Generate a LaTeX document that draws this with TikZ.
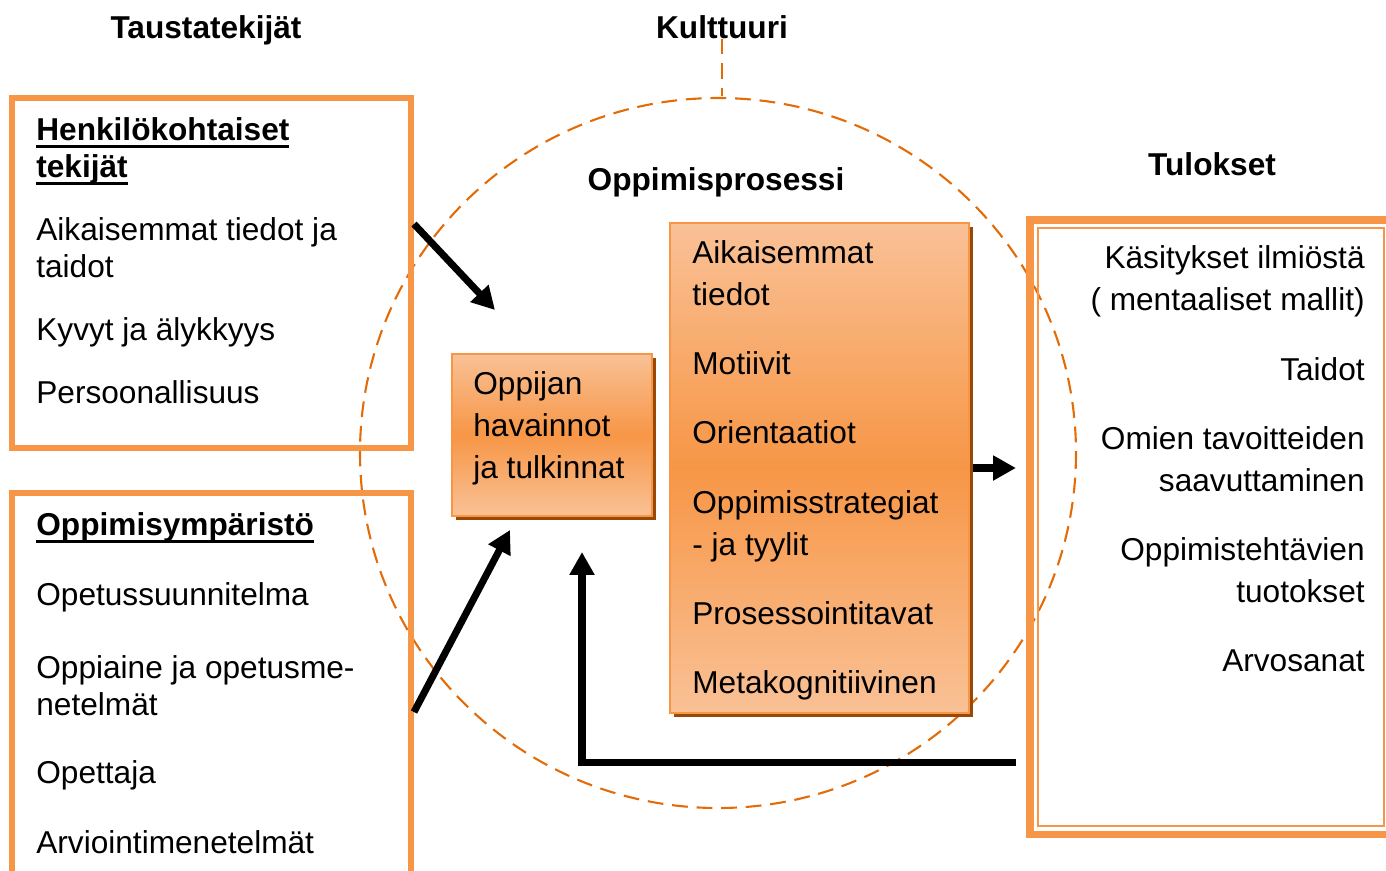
\documentclass[tikz,border=0pt]{standalone}
\usepackage{fontspec}
\setmainfont{Liberation Sans}
\usetikzlibrary{arrows.meta,shadows,fit}
\definecolor{orline}{HTML}{F79646}
\definecolor{orlight}{HTML}{F9C196}
\definecolor{ordark}{HTML}{F79646}
\definecolor{orshadow}{HTML}{984807}
\definecolor{ordash}{HTML}{E36C09}
\newlength\ulwd
\newcommand\ulhead[1]{\settowidth\ulwd{#1}\rlap{\rule[-4.6pt]{\ulwd}{1.7pt}}#1}
\begin{document}
\begin{tikzpicture}[x=0.02cm,y=-0.02cm,
  every node/.style={inner sep=0pt,font=\fontsize{18pt}{21pt}\selectfont},
  item/.style={anchor=base west,align=left},
  boxitem/.style={anchor=base west,align=left,font=\fontsize{18pt}{23.8pt}\selectfont},
  outitem/.style={anchor=base east,align=right,font=\fontsize{18pt}{23.8pt}\selectfont},
  head/.style={anchor=base,font=\fontsize{18pt}{21pt}\selectfont\bfseries},
  subhead/.style={anchor=base west,align=left,font=\fontsize{18pt}{21pt}\selectfont\bfseries},
  frame/.style={draw=orline,line width=3.4pt},
  procbox/.style={draw=orline,line width=1pt,top color=orlight,bottom color=orlight,middle color=ordark,
    drop shadow={shadow xshift=2pt,shadow yshift=-2.5pt,fill=orshadow,opacity=1}},
  culture/.style={draw=ordash,line width=1.2pt,dash pattern=on 9pt off 5pt},
  bigarrow/.style={line width=4pt,-{Triangle[length=13pt,width=13.5pt]}}]
  \useasboundingbox (0,0) rectangle (1386,870);
  \draw[culture] (718,453) ellipse [x radius=358,y radius=355];
  \node[head] (taus) at (206,38) {Taustatekijät};
  \node[head] (kult) at (722,38) {Kulttuuri};
  \node[head] (opp) at (716,190) {Oppimisprosessi};
  \node[head] (tul) at (1212,175) {Tulokset};
  \draw[culture] (kult.south) -- (kult.south |- 0,96);
  \node[frame,fit={(12,98) (411,448)}] (pers) {};
  \node[frame,fit={(12,493) (411,900)}] (env) {};
  \node[procbox,fit={(452,354) (652,516)}] (perc) {};
  \node[procbox,fit={(670,223) (969,713)}] (proc) {};
  \node[frame,line width=4pt,fit={(1030,220) (1400,834)}] (res) {};
  \node[draw=orline,line width=1.1pt,fit={(1038,228) (1384,826)}] (resin) {};
  \node[subhead] (pershead) at (36,177) {\ulhead{Henkilökohtaiset}\\\ulhead{tekijät}};
  \node[item] (prior) at (36,277) {Aikaisemmat tiedot ja\\taidot};
  \node[item] (abil) at (36,340) {Kyvyt ja älykkyys};
  \node[item] (persona) at (36,403) {Persoonallisuus};
  \node[subhead] (envhead) at (36,535) {\ulhead{Oppimisympäristö}};
  \node[item] (curr) at (36,605) {Opetussuunnitelma};
  \node[item] (subj) at (36,715) {Oppiaine ja opetusme-\\netelmät};
  \node[item] (teach) at (36,783) {Opettaja};
  \node[item] (assess) at (36,853) {Arviointimenetelmät};
  \node[boxitem] (perctext) at (473,478) {Oppijan\\havainnot\\ja tulkinnat};
  \node[boxitem] (know) at (692,305) {Aikaisemmat\\tiedot};
  \node[boxitem] (motiv) at (692,374) {Motiivit};
  \node[boxitem] (orient) at (692,443) {Orientaatiot};
  \node[boxitem] (strat) at (692,555) {Oppimisstrategiat\\- ja tyylit};
  \node[boxitem] (proctype) at (692,624) {Prosessointitavat};
  \node[boxitem] (meta) at (692,693) {Metakognitiivinen};
  \node[outitem] (concept) at (1365,310) {Käsitykset ilmiöstä\\( mentaaliset mallit)};
  \node[outitem] (skills) at (1365,380) {Taidot};
  \node[outitem] (goals) at (1365,491) {Omien tavoitteiden\\saavuttaminen};
  \node[outitem] (tasks) at (1365,602) {Oppimistehtävien\\tuotokset};
  \node[outitem] (grades) at (1365,671) {Arvosanat};
  \coordinate (intip) at (495,310);
  \coordinate (envtip) at (510,530);
  \coordinate (fbtip) at (582,552);
  \draw[bigarrow] (pers.east |- 0,224) -- (intip);
  \draw[bigarrow] (env.east |- 0,712) -- (envtip);
  \draw[bigarrow,shorten <=2pt,shorten >=6pt] (proc.east) -- (proc.east -| res.west);
  \draw[bigarrow,shorten <=6pt] (res.west |- 0,762) -| (fbtip);
\end{tikzpicture}
\end{document}
